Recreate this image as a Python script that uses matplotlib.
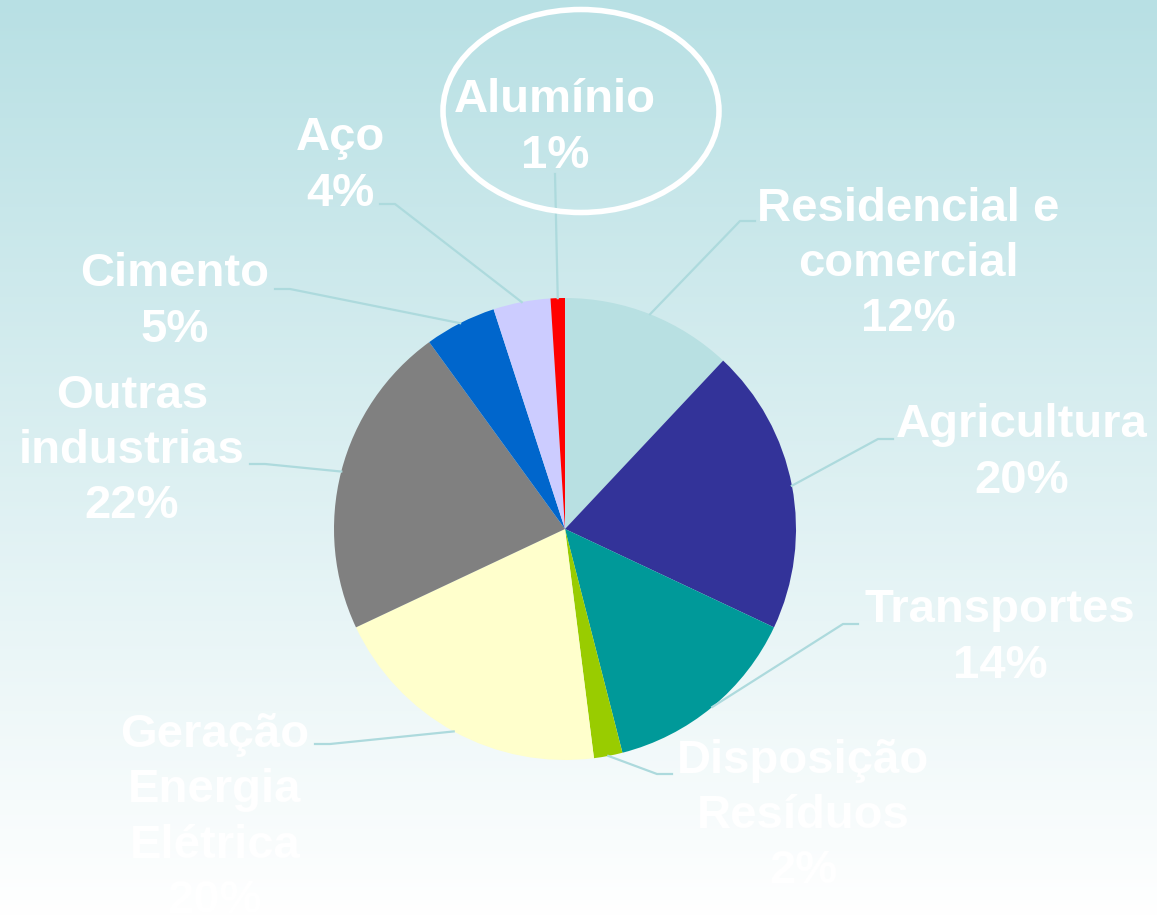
import numpy as np
import matplotlib.pyplot as plt
from matplotlib.patches import Ellipse

# data, clockwise from 12 o'clock
labels = ["Residencial e\ncomercial", "Agricultura", "Transportes", "Disposição\nResíduos",
          "Geração\nEnergia\nElétrica", "Outras\nindustrias", "Cimento", "Aço", "Alumínio"]
values = [12, 20, 14, 2, 20, 22, 5, 4, 1]
colors = ["#B8E0E2", "#333399", "#009999", "#99CC00", "#FFFFCC",
          "#808080", "#0066CC", "#CCCCFF", "#FF0000"]

# label placement in pixel units (y measured from the top), and elbow ends of the leader lines
label_pos = [(908, 264), (1022, 453), (1000, 638), (803, 816),
             (215, 818), (132, 451), (175, 302), (340, 166), (555, 128)]
elbow_pos = [(755, 222), (893, 440), (858, 625), (672, 775),
             (315, 745), (250, 465), (275, 290), (380, 205), (555, 175)]

W, H = 1157, 920
cx, cy, r = 565, 530, 231

fig = plt.figure(figsize=(W / 100, H / 100), dpi=100)
ax = fig.add_axes([0, 0, 1, 1])

# background gradient: pale teal at the top to white at the bottom
top = np.array([184, 224, 228]) / 255
bot = np.array([255, 255, 255]) / 255
t = np.linspace(0, 1, 256)[:, None]
grad = top * (1 - t) + bot * t
grad = np.repeat(grad[:, None, :], 2, axis=1)
ax.imshow(grad, extent=[0, W, 0, H], aspect="auto", zorder=0, origin="upper")

wedges, _ = ax.pie(values, colors=colors, startangle=90, counterclock=False,
                   center=(cx, H - cy), radius=r, frame=True,
                   wedgeprops=dict(linewidth=0))
ax.set_xlim(0, W)
ax.set_ylim(0, H)
ax.set_aspect("equal")
ax.axis("off")

line_col = "#ADDADD"
for w, lab, v, (lx, ly), (ex, ey) in zip(wedges, labels, values, label_pos, elbow_pos):
    ang = np.deg2rad((w.theta1 + w.theta2) / 2)
    px = cx + r * np.cos(ang)
    py = (H - cy) + r * np.sin(ang)
    hx = ex - 15 if ex > cx else ex + 15
    if lab == "Alumínio":
        hx = ex
    ax.plot([px, hx, ex], [py, H - ey, H - ey], color=line_col, lw=1.6, zorder=3)
    ax.text(lx, H - ly, f"{lab}\n{v}%", ha="center", va="center", color="white",
            fontsize=34, fontweight="bold", family="Liberation Sans",
            linespacing=1.33, zorder=4)

ax.add_patch(Ellipse((581, H - 112), 276, 203, fill=False, edgecolor="white",
                     lw=4, zorder=5))

fig.savefig("out.png", dpi=100)
